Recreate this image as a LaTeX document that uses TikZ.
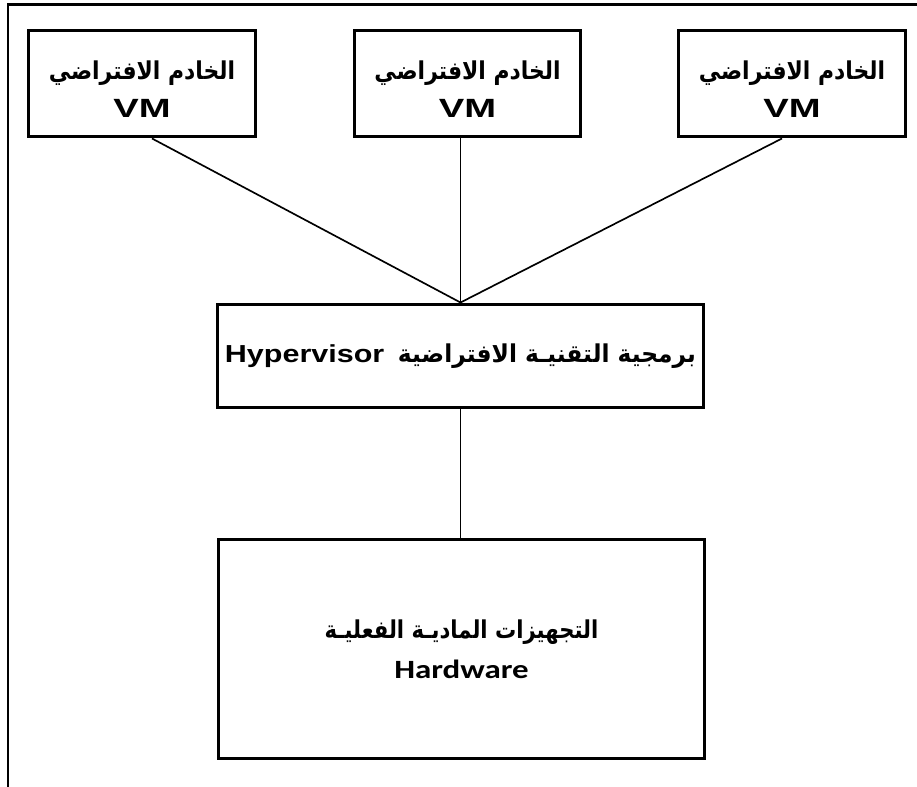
\documentclass[tikz,border=0pt]{standalone}
\usepackage{graphicx}
\usepackage{fontspec}
\setmainfont{Liberation Sans}
\newfontfamily\arabicfont[Script=Arabic]{DejaVu Sans}
\newfontfamily\hwfont{Carlito}
\TeXXeTstate=1

% arabic text, squeezed horizontally by #1
\newcommand{\artext}[2]{\scalebox{#1}[1]{\arabicfont #2}}

\begin{document}
\begin{tikzpicture}[x=0.02cm,y=-0.02cm,
    box/.style={draw,line width=1.7pt,align=center,inner sep=0pt,font=\bfseries\fontsize{14}{21}\selectfont},
    vmbox/.style={box,minimum width=4.54cm,minimum height=2.14cm},
    wide/.style={box,minimum width=9.74cm},
    link/.style={line width=0.95pt}]
  \useasboundingbox (0,0) rectangle (917,787);
  % open frame, left and top only
  \draw[line width=1.7pt] (8,787) -- (8,4.5) -- (917,4.5);
  % virtual machines
  \node[vmbox] (vmleft) at (142,83.5)
    {\rule{0pt}{17pt}\artext{0.89}{\beginR الخادم الافتراضي\endR}\\[1pt] \scalebox{1.45}[1]{\fontsize{15}{21}\selectfont VM}};
  \node[vmbox] (vmmid) at (467.5,83.5)
    {\rule{0pt}{17pt}\artext{0.89}{\beginR الخادم الافتراضي\endR}\\[1pt] \scalebox{1.45}[1]{\fontsize{15}{21}\selectfont VM}};
  \node[vmbox] (vmright) at (792,83.5)
    {\rule{0pt}{17pt}\artext{0.89}{\beginR الخادم الافتراضي\endR}\\[1pt] \scalebox{1.45}[1]{\fontsize{15}{21}\selectfont VM}};
  % hypervisor and hardware
  \node[wide,minimum height=2.08cm] (hyper) at (460.5,356)
    {\scalebox{1.24}[1]{Hypervisor}\ \ \artext{0.95}{\beginR برمجية التقنيـة الافتراضية\endR}};
  \node[wide,minimum height=4.4cm] (hw) at (461.5,649)
    {\artext{0.86}{\beginR التجهيزات الماديـة الفعليـة\endR}\\[2pt] \scalebox{1.25}[1]{\hwfont\fontsize{15}{21}\selectfont Hardware}};
  % connections
  \draw[link] ([xshift=0.2cm]vmleft.south) -- (hyper.north);
  \draw[link] (hyper.north) -- (hyper.north |- vmmid.south);
  \draw[link] ([xshift=-0.2cm]vmright.south) -- (hyper.north);
  \draw[link] (hyper.south) -- (hyper.south |- hw.north);
\end{tikzpicture}
\end{document}
